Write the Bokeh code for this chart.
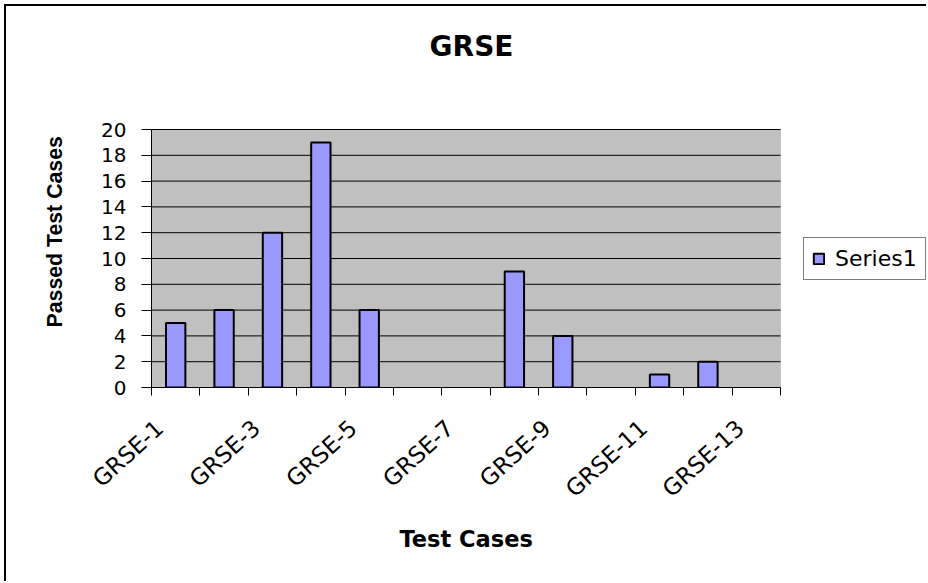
from bokeh.plotting import figure
from bokeh.models import (FixedTicker, Legend, LegendItem, ColumnDataSource, Title,
                          CDSView, BooleanFilter, Label, BoxAnnotation, Range1d)
from bokeh.embed import file_html
from bokeh.resources import INLINE

# ---- data ----
categories = ["GRSE-1", "GRSE-2", "GRSE-3", "GRSE-4", "GRSE-5", "GRSE-6", "GRSE-7",
              "GRSE-8", "GRSE-9", "GRSE-10", "GRSE-11", "GRSE-12", "GRSE-13"]
passed = [5, 6, 12, 19, 6, 0, 0, 9, 4, 0, 1, 2, 0]
y_ticks = [0, 2, 4, 6, 8, 10, 12, 14, 16, 18, 20]
series_name = "Series1"
title_text = "GRSE"
x_title = "Test Cases"
y_title = "Passed Test Cases"

# ---- layout constants (pixels on the canvas) ----
W, H = 922, 577
BORDER_LEFT, BORDER_BOTTOM = 145, 196
AREA_W, AREA_H = 629, 258          # size of the grey plot area
label_shift = -0.33                # shift of rotated category labels (category units)

n = len(categories)
x_lo, x_hi = 0.5, n + 0.5
y_lo, y_hi = y_ticks[0], y_ticks[-1]
frame_w = W - BORDER_LEFT
frame_h = H - BORDER_BOTTOM
x_end = x_lo + (x_hi - x_lo) * frame_w / AREA_W
y_end = y_lo + (y_hi - y_lo) * frame_h / AREA_H

positions = list(range(1, n + 1))
src = ColumnDataSource(dict(x=positions, top=passed, name=categories))
view = CDSView(filter=BooleanFilter([v > 0 for v in passed]))

p = figure(width=W, height=H, output_backend="svg", toolbar_location=None,
           x_range=Range1d(x_lo, x_end), y_range=Range1d(y_lo, y_end),
           min_border_left=BORDER_LEFT, min_border_right=0, min_border_top=0,
           min_border_bottom=BORDER_BOTTOM,
           background_fill_color="white", border_fill_color="white")
p.styles = {"margin-left": "4px", "margin-top": "4px",
            "border-left": "2px solid black", "border-top": "2px solid black"}
p.outline_line_color = None
p.xgrid.visible = False
p.ygrid.visible = False

# grey plot area and its grid lines
p.add_layout(BoxAnnotation(left=x_lo, right=x_hi, bottom=y_lo, top=y_hi,
                           fill_color="#C0C0C0", fill_alpha=1,
                           line_color="#808080", line_width=1, level="underlay"))
p.segment(x0=[x_lo] * len(y_ticks), x1=[x_hi] * len(y_ticks), y0=y_ticks, y1=y_ticks,
          line_color="black", line_width=1)

r = p.vbar(x="x", top="top", width=0.4, source=src, view=view, fill_color="#9999FF",
           line_color="black", line_width=2)

# x axis
xa = p.xaxis[0]
xa.bounds = (x_lo, x_hi)
label_pos = [pos + label_shift for pos in positions[::2]]
xa.ticker = FixedTicker(ticks=label_pos,
                        minor_ticks=[i + 0.5 for i in range(n + 1)])
xa.major_label_overrides = {lp: lab for lp, lab in zip(label_pos, categories[::2])}
xa.major_label_orientation = 0.74
xa.major_tick_out = 0
xa.major_tick_in = 0
xa.minor_tick_out = 8
xa.minor_tick_in = 0
xa.minor_tick_line_color = "black"
xa.axis_line_color = "black"
xa.major_label_text_font = "DejaVu Sans"
xa.major_label_text_font_size = "23px"
xa.major_label_text_color = "black"
xa.major_label_standoff = 29

# y axis
ya = p.yaxis[0]
ya.bounds = (y_lo, y_hi)
ya.ticker = FixedTicker(ticks=y_ticks)
ya.major_tick_out = 10
ya.major_tick_in = 0
ya.minor_tick_line_color = None
ya.major_tick_line_color = "black"
ya.axis_line_color = "black"
ya.major_label_text_font = "DejaVu Sans"
ya.major_label_text_font_size = "20px"
ya.major_label_text_color = "black"
ya.major_label_standoff = 15

# axis titles in the side panels
p.add_layout(Title(text=x_title, align="left", offset=248, standoff=18,
                   text_font="DejaVu Sans", text_font_style="bold",
                   text_font_size="22.5px", text_color="black"), "below")
p.add_layout(Title(text=y_title, align="left", offset=60, standoff=64,
                   text_font="Liberation Sans", text_font_style="bold",
                   text_font_size="21.3px", text_color="black"), "left")

# chart title inside the (wide) frame
p.add_layout(Label(x=320, y=341.5, x_units="screen", y_units="screen", text=title_text,
                   text_align="center", text_baseline="middle", text_font="DejaVu Sans",
                   text_font_style="bold", text_font_size="28px", text_color="black"))

legend = Legend(items=[LegendItem(label=series_name, renderers=[r])],
                location=(652, 107))
legend.margin = 0
legend.padding = 8
legend.spacing = 0
legend.glyph_width = 13
legend.glyph_height = 13
legend.label_standoff = 10
legend.label_text_font = "DejaVu Sans"
legend.label_text_font_size = "22px"
legend.label_text_color = "black"
legend.border_line_color = "black"
legend.border_line_width = 1
legend.background_fill_color = "white"
legend.background_fill_alpha = 1
p.add_layout(legend)

open("out.html", "w").write(file_html(p, INLINE))
